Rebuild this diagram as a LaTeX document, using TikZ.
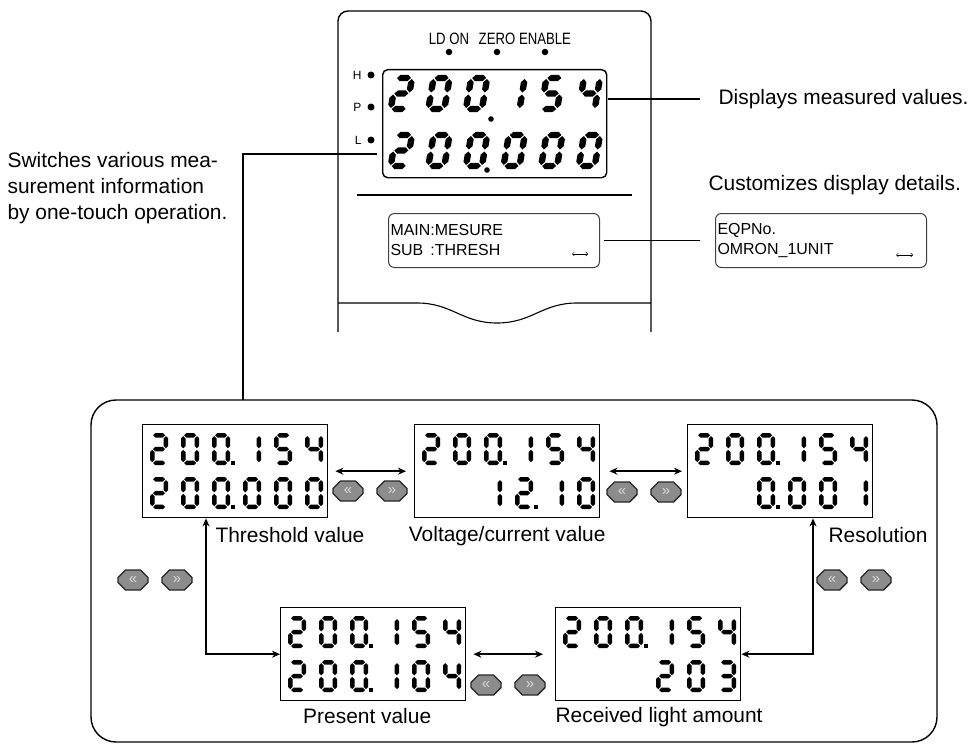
\documentclass[tikz,border=0pt]{standalone}
\usepackage{fontspec}
\setmainfont{Liberation Sans}
\newfontfamily\narrowfont[FakeStretch=0.8]{Liberation Sans}
\usetikzlibrary{arrows.meta,positioning,shapes.misc}

% seven segment digits (local y runs down)
\def\sgw{13.6}\def\sgh{27.6}\def\sgt{4.6}\def\sgg{0.8}\def\sgp{31}
\newcommand\hseg[1]{\fill (\sgg,#1)--(\sgg+\sgt/2,#1-\sgt/2)--(\sgw-\sgg-\sgt/2,#1-\sgt/2)--(\sgw-\sgg,#1)--(\sgw-\sgg-\sgt/2,#1+\sgt/2)--(\sgg+\sgt/2,#1+\sgt/2)--cycle;}
\newcommand\vseg[2]{\fill (#1,#2+\sgg)--(#1+\sgt/2,#2+\sgg+\sgt/2)--(#1+\sgt/2,#2+\sgh/2-\sgg-\sgt/2)--(#1,#2+\sgh/2-\sgg)--(#1-\sgt/2,#2+\sgh/2-\sgg-\sgt/2)--(#1-\sgt/2,#2+\sgg+\sgt/2)--cycle;}
\def\sA{\hseg{0}}\def\sB{\vseg{\sgw}{0}}\def\sC{\vseg{\sgw}{\sgh/2}}\def\sD{\hseg{\sgh}}
\def\sE{\vseg{0}{\sgh/2}}\def\sF{\vseg{0}{0}}\def\sG{\hseg{\sgh/2}}
\newcommand\lcdnum[1]{\ifcase#1\relax
  \sA\sB\sC\sD\sE\sF\or
  \sB\sC\or
  \sA\sB\sG\sE\sD\or
  \sA\sB\sG\sC\sD\or
  \sF\sG\sB\sC\or
  \sA\sF\sG\sC\sD\fi}
\newcommand\lcdrow[4][]{\foreach \nd [count=\ci from 0] in {#4}{%
  \begin{scope}[shift={(#2+\ci*\sgp,#3)},#1]\lcdnum{\nd}\end{scope}}}
\newcommand\smalllcd[4]{\begin{scope}[shift={(#1.north west)}]
  \lcdrow{10.3}{11.3}{#2}\lcdrow{10.3}{55.3}{#3}
  \foreach \dx/\dy in {#4}{\fill (\dx-2.2,\dy-2.2) rectangle (\dx+2.2,\dy+2.2);}
  \end{scope}}

\begin{document}
\begin{tikzpicture}[x=1bp,y=-1bp,line width=1.1bp,
    lbl/.style={font=\fontsize{21}{26}\selectfont,inner sep=0pt},
    boxtxt/.style={font=\fontsize{16}{20}\selectfont,inner sep=0pt,align=left},
    ledtxt/.style={font=\narrowfont\fontsize{16.5}{18}\selectfont,inner sep=0pt},
    hpl/.style={font=\fontsize{12}{12}\selectfont,inner sep=0pt},
    led/.style={circle,fill,inner sep=0pt,minimum size=6.5bp},
    lcdbox/.style={draw,line width=1.4bp,anchor=north west,minimum width=185bp,minimum height=93bp,inner sep=0pt},
    txtbox/.style={draw=black!75,line width=1bp,rounded corners=6bp,anchor=north west,minimum width=211bp,minimum height=54bp,inner sep=0pt},
    btn/.style={chamfered rectangle,chamfered rectangle xsep=4bp,chamfered rectangle ysep=4bp,draw=black!85,fill=black!45,line width=1.3bp,minimum width=30bp,minimum height=20bp,inner sep=0pt,text=black!15,font=\fontsize{15}{15}\selectfont},
    dbl/.style={{Stealth[length=8bp,width=7bp]}-{Stealth[length=8bp,width=7bp]},line width=1.5bp}]
  \useasboundingbox (0,0) rectangle (976,744);

  % sensor front
  \draw[line width=1.4bp,rounded corners=10bp] (338,332)--(338,11)--(651,11)--(651,332);
  \draw (338,303)--(417,303) .. controls (452,303) and (462,323) .. (497,323)
        .. controls (532,323) and (542,303) .. (577,303)--(651,303);
  \foreach \nm/\x/\t in {ld/449/LD ON,zero/497/ZERO,enable/545/ENABLE}{
    \node[led] (\nm) at (\x,52) {};
    \node[ledtxt,above=3bp of \nm] (\nm txt) {\t};
  }
  \foreach \t/\y in {H/75,P/107,L/140}{
    \node[led,minimum size=7bp] (led\t) at (371,\y) {};
    \node[hpl,left=5bp of led\t] (txt\t) {\t};
  }
  \node[draw,line width=1.4bp,rounded corners=5bp,anchor=north west,minimum width=224bp,minimum height=108bp] (lcd) at (382,69) {};
  \begin{scope}[shift={(lcd.north west)}]
    \def\sgw{16}\def\sgh{31}\def\sgt{6.4}\def\sgg{1}\def\sgp{37.6}
    \lcdrow[xslant=0.17]{14}{9}{2,0,0,1,5,4}
    \lcdrow[xslant=0.17]{14}{66}{2,0,0,0,0,0}
  \end{scope}
  \fill (491,119) circle[radius=2.8bp] (487,170) circle[radius=2.8bp];
  \draw (357,195)--(632,195);

  \node[txtbox] (mainbox) at (388,213) {};
  \node[boxtxt,anchor=north west] (maintxt) at ([xshift=2bp,yshift=-11bp]mainbox.north west) {MAIN:MESURE\\\rlap{SUB}\phantom{MAIN}:THRESH};
  \draw[{Straight Barb[length=2bp]}-{Straight Barb[length=2bp]},line width=0.5bp] ([xshift=-12bp,yshift=14bp]mainbox.south east)--++(-16,0);
  \node[txtbox] (eqpbox) at (715,213) {};
  \node[boxtxt,anchor=north west] (eqptxt) at ([xshift=2bp,yshift=-10bp]eqpbox.north west) {EQPNo.\\OMRON\_1UNIT};
  \draw[{Straight Barb[length=2bp]}-{Straight Barb[length=2bp]},line width=0.5bp] ([xshift=-14bp,yshift=13bp]eqpbox.south east)--++(-17,0);

  % callouts
  \node[lbl,anchor=west] (dml) at (718,99) {Displays measured values.};
  \coordinate (dmA) at (608,99);
  \draw (dmA)--([xshift=-18bp]dml.west);
  \node[lbl,anchor=west] (cdl) at (708,185) {Customizes display details.};
  \draw[shorten <=4bp,shorten >=15bp] (mainbox.east)--(eqpbox.west);
  \node[lbl,anchor=west,align=left] (swl) at (7,188) {Switches various mea-\\surement information\\by one-touch operation.};
  \coordinate (swA) at (377,154);\coordinate (swB) at (243,400);
  \draw (swA)-|(swB);

  % display cycle
  \draw[line width=1.4bp,rounded corners=25bp] (91,400) rectangle (937,742);
  \node[lcdbox] (thr) at (142,424) {};
  \node[lcdbox] (volt) at (414,424) {};
  \node[lcdbox] (res) at (687,424) {};
  \node[lcdbox] (pres) at (280,607) {};
  \node[lcdbox] (recv) at (555,607) {};
  \smalllcd{thr}{2,0,0,1,5,4}{2,0,0,0,0,0}{91/39,91/83}
  \smalllcd{volt}{2,0,0,1,5,4}{10,10,1,2,1,0}{91/39,122/83}
  \smalllcd{res}{2,0,0,1,5,4}{10,10,0,0,0,1}{91/39,91/83}
  \smalllcd{pres}{2,0,0,1,5,4}{2,0,0,1,0,4}{91/39,91/83}
  \smalllcd{recv}{2,0,0,1,5,4}{10,10,10,2,0,3}{91/39}

  \node[lbl,anchor=north west] (thrl) at ([xshift=73bp,yshift=-8bp]thr.south west) {Threshold value};
  \node[lbl,below=7bp of volt] (voltl) {Voltage/current value};
  \node[lbl,anchor=north west] (resl) at ([xshift=141bp,yshift=-8bp]res.south west) {Resolution};
  \node[lbl,below=6bp of pres,xshift=-6bp] (presl) {Present value};
  \node[lbl,anchor=north west] (recvl) at ([yshift=-5bp]recv.south west) {Received light amount};

  \draw[dbl,shorten <=7bp,shorten >=8bp] (thr.east)--(volt.west);
  \draw[dbl,shorten <=9bp,shorten >=5bp] (volt.east)--(res.west);
  \draw[dbl,shorten <=7bp,shorten >=12bp] (pres.east)--(recv.west);
  \draw[dbl] (pres.west)-|([xshift=64bp]thr.south west);
  \draw[dbl] (recv.east)-|([xshift=126bp]res.south west);

  \foreach \x/\y in {348/491,622/492,133/580,832/580,486/685}{
    \node[btn] (bl\x) at (\x,\y) {«};
    \node[btn] (br\x) at (\x+44,\y) {»};
  }
\end{tikzpicture}
\end{document}
